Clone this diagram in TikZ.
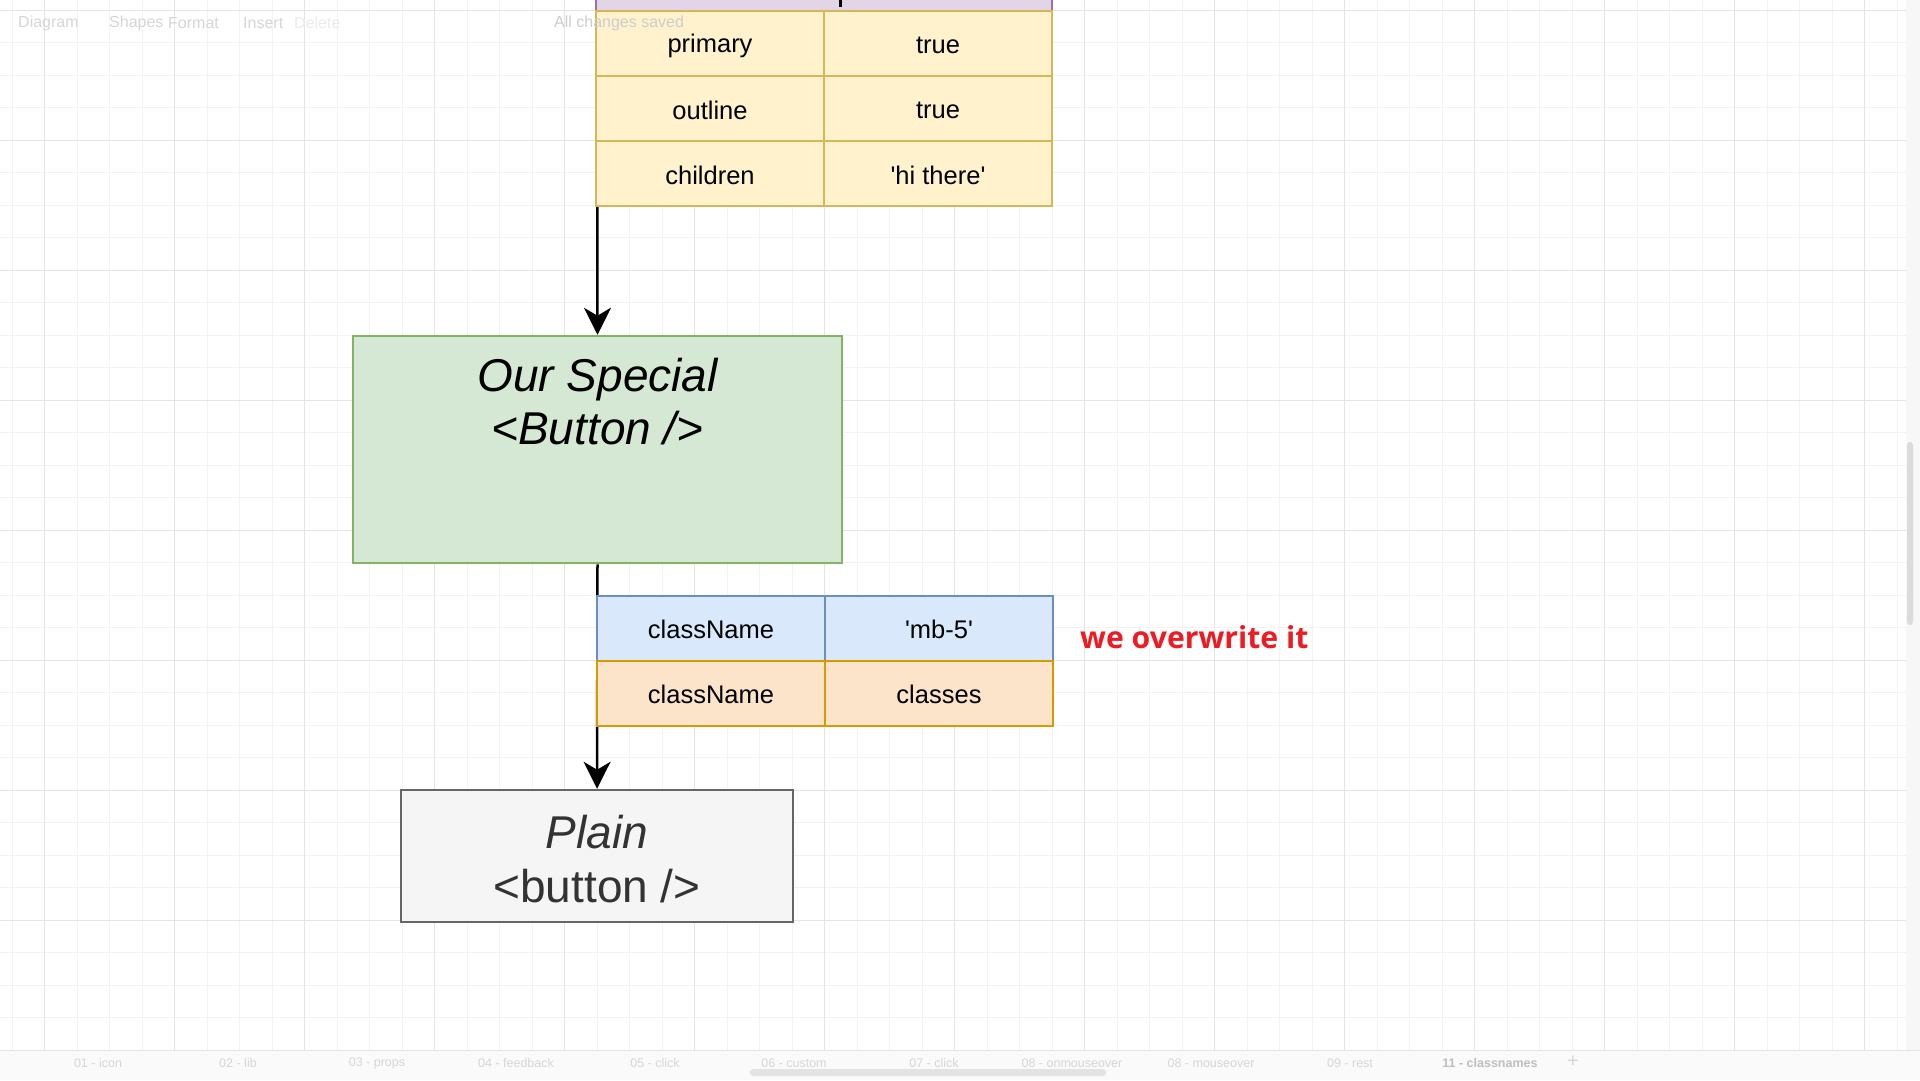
\documentclass[tikz,border=0pt]{standalone}
\usepackage{fontspec}
\setmainfont{Liberation Sans}
\newfontfamily\redfont{Open Sans}
\usetikzlibrary{arrows.meta,calc}
\definecolor{yfill}{HTML}{FFF2CC}
\definecolor{yline}{HTML}{D6B656}
\definecolor{gfill}{HTML}{D5E8D4}
\definecolor{gline}{HTML}{82B366}
\definecolor{bfill}{HTML}{DAE8FC}
\definecolor{bline}{HTML}{6C8EBF}
\definecolor{ofill}{HTML}{FCE4CB}
\definecolor{oline}{HTML}{D79B00}
\definecolor{pfill}{HTML}{E1D5E7}
\definecolor{pline}{HTML}{9673A6}
\definecolor{plfill}{HTML}{F5F5F5}
\definecolor{plline}{HTML}{666666}
\definecolor{pltext}{HTML}{333333}
\definecolor{redtxt}{HTML}{ED1C24}
\definecolor{gridminor}{HTML}{F3F3F3}
\definecolor{gridmajor}{HTML}{E4E4E4}
\definecolor{uitext}{HTML}{D6D6D6}
\newcommand{\lowtxt}[2]{\raisebox{-#1}[\height][\depth]{#2}}
\tikzset{
  cell/.style={draw, line width=2.5pt, minimum width=228pt, minimum height=65pt, inner sep=0pt,
    font=\fontsize{25.5}{30}\selectfont},
  ycell/.style={cell, fill=yfill, draw=yline},
  bcell/.style={cell, fill=bfill, draw=bline},
  ocell/.style={cell, fill=ofill, draw=oline},
  conn/.style={line width=2.5pt, draw=black},
  arrowconn/.style={conn, -{Stealth[length=27pt,width=27pt,inset=8pt]}},
  bigtext/.style={font=\fontsize{46}{53}\selectfont\itshape, align=center},
  uilabel/.style={font=\fontsize{16}{18}\selectfont, text=uitext, inner sep=0pt},
  tablabel/.style={font=\fontsize{12.5}{14}\selectfont, text=uitext, inner sep=0pt},
}
\begin{document}
\begin{tikzpicture}[x=1pt,y=-1pt]
\useasboundingbox (0,0) rectangle (1920,1080);
\fill[white] (0,0) rectangle (1920,1080);
% grid
\foreach \i in {0,...,58} {\draw[gridminor, line width=1pt] ({12+32.5*\i},0) -- ({12+32.5*\i},1050);}
\foreach \i in {0,...,32} {\draw[gridminor, line width=1pt] (0,{10.3+32.5*\i}) -- (1906,{10.3+32.5*\i});}
\foreach \i in {0,...,14} {\draw[gridmajor, line width=1pt] ({44.5+130*\i},0) -- ({44.5+130*\i},1050);}
\foreach \i in {0,...,8} {\draw[gridmajor, line width=1pt] (0,{10.3+130*\i}) -- (1906,{10.3+130*\i});}
% right scrollbar and bottom bar
\fill[white!97!black] (1906,0) rectangle (1920,1050);
\fill[black!14, rounded corners=3pt] (1907,442) rectangle (1913,625);
\fill[white!98!black] (0,1050) rectangle (1920,1080);
\draw[gridmajor, line width=1pt] (0,1050) -- (1920,1050);
\fill[black!11, rounded corners=3pt] (750,1069) rectangle (1106,1076);
% toolbar labels
\node[uilabel, anchor=west] (tbdiagram) at (18,23) {Diagram};
\node[uilabel, anchor=west] (tbshapes) at (109,23) {Shapes};
\node[uilabel, anchor=west] (tbformat) at (168,23) {Format};
\node[uilabel, anchor=west] (tbinsert) at (243,23) {Insert};
\node[uilabel, anchor=west, text=black!8] (tbdelete) at (294,23) {Delete};
% tabs
\node[tablabel] (t1) at (98,1063) {01 - icon};
\node[tablabel] (t2) at (238,1063) {02 - lib};
\node[tablabel] (t3) at (377,1063) {03 - props};
\node[tablabel] (t4) at (516,1063) {04 - feedback};
\node[tablabel] (t5) at (655,1063) {05 - click};
\node[tablabel] (t6) at (794,1063) {06 - custom};
\node[tablabel] (t7) at (934,1063) {07 - click};
\node[tablabel] (t8) at (1072,1063) {08 - onmouseover};
\node[tablabel] (t9) at (1211,1063) {08 - mouseover};
\node[tablabel] (t10) at (1350,1063) {09 - rest};
\node[tablabel, text=black!25, font=\fontsize{12.5}{14}\selectfont\bfseries] (t11) at (1490,1063) {11 - classnames};
\node[tablabel, font=\fontsize{20}{20}\selectfont] (tplus) at (1573,1062) {+};
% main boxes
\node[draw=gline, fill=gfill, line width=2.5pt, minimum width=489pt, minimum height=227pt, inner sep=0pt] (special) at (597.5,449.5) {};
\node[bigtext] (specialtext) at (597.5,402) {Our Special\\<Button />};
\node[draw=plline, fill=plfill, line width=2.5pt, minimum width=392pt, minimum height=132pt, inner sep=0pt] (plain) at (597,856) {};
\node[font=\fontsize{46}{54}\selectfont, text=pltext, align=center] (plaintext) at (597,859) {\textit{Plain}\\<button />};
% connectors (drawn under the tables)
\coordinate (topin) at (597,0);
\draw[arrowconn] (topin) -- (special.north);
\draw[arrowconn] (special.south) -- (plain.north);
% top table
\draw[fill=pfill, draw=pline, line width=2.5pt] (596,-10) rectangle (1052,11);
\draw[black, line width=3pt] (840,0) -- (840,7);
\node[ycell] (p1) at (710,43.5) {\lowtxt{2.5pt}{primary}};
\node[ycell] (p2) at (938,43.5) {\lowtxt{2pt}{true}};
\node[ycell] (o1) at (710,108.5) {\lowtxt{1.5pt}{outline}};
\node[ycell] (o2) at (938,108.5) {\lowtxt{2pt}{true}};
\node[ycell] (c1) at (710,173.5) {\lowtxt{1.5pt}{children}};
\node[ycell] (c2) at (938,173.5) {\lowtxt{1.5pt}{\textquotesingle hi there\textquotesingle}};
\node[uilabel, anchor=west, text=uitext!80!black!60] (tbsaved) at (554,23) {All changes saved};
% middle table
\node[bcell] (cn1) at (711,628.5) {\lowtxt{1.2pt}{className}};
\node[bcell] (cn2) at (939,628.5) {\lowtxt{1.2pt}{\textquotesingle mb-5\textquotesingle}};
\node[ocell] (cc1) at (711,693.5) {\lowtxt{1.2pt}{className}};
\node[ocell] (cc2) at (939,693.5) {\lowtxt{1.2pt}{classes}};
% note
\node[anchor=base west, inner sep=0pt, text=redtxt, font=\redfont\bfseries\fontsize{30.2}{34}\selectfont] (note) at (1080,648) {we overwrite it};
\end{tikzpicture}
\end{document}
